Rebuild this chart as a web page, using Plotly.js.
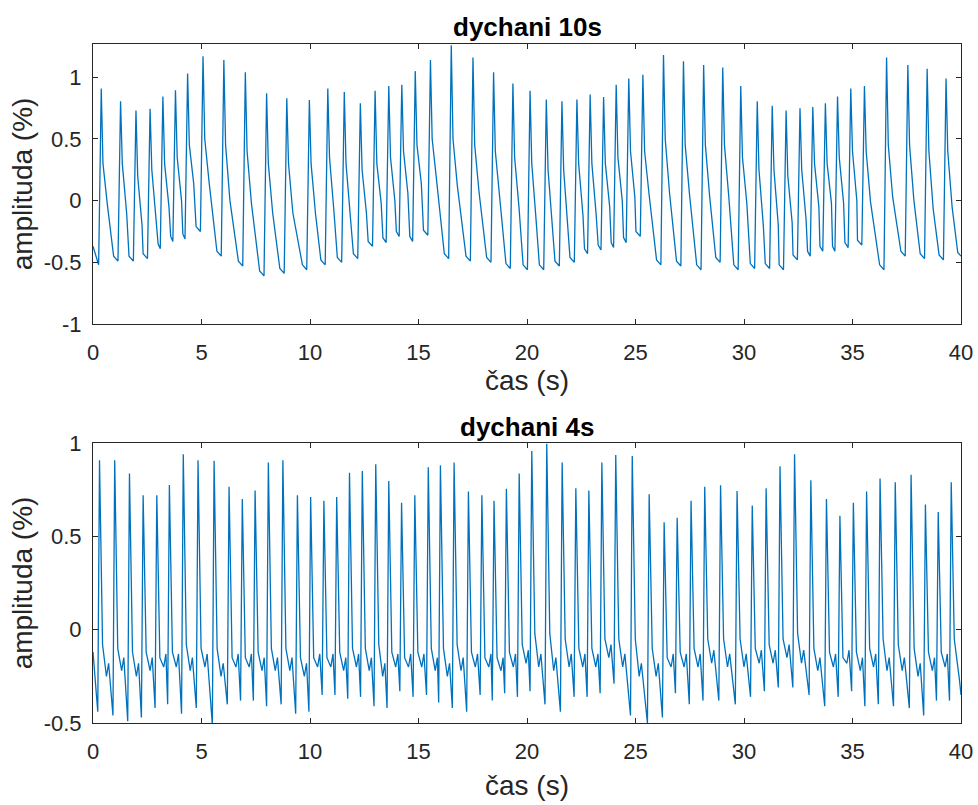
<!DOCTYPE html>
<html>
<head>
<meta charset="utf-8">
<script src="https://cdn.plot.ly/plotly-3.0.1.min.js"></script>
<style>
html,body{margin:0;padding:0;background:#ffffff;}
#chart{width:978px;height:805px;}
</style>
</head>
<body>
<div id="chart"></div>
<script>
// ---------- top panel: "dychani 10s" (key points) ----------
const startT10 = [0.00];
const startV10 = [-0.37];
const troughT10 = [0.26,1.15,1.86,2.51,3.10,3.68,4.24,4.95,5.91,6.90,7.88,8.81,9.85,10.70,11.46,12.20,12.88,13.51,14.11,14.73,15.43,16.39,17.39,18.34,19.23,20.02,20.77,21.49,22.18,22.79,23.41,23.99,24.57,25.22,26.17,27.09,28.02,28.90,29.73,30.49,31.18,31.82,32.46,33.05,33.63,34.19,34.80,35.43,36.45,37.43,38.32,39.19];
const troughV10 = [-0.52,-0.49,-0.49,-0.47,-0.39,-0.33,-0.31,-0.25,-0.45,-0.53,-0.61,-0.59,-0.56,-0.52,-0.50,-0.47,-0.37,-0.34,-0.29,-0.33,-0.28,-0.47,-0.49,-0.50,-0.55,-0.56,-0.56,-0.53,-0.50,-0.43,-0.40,-0.38,-0.34,-0.29,-0.52,-0.53,-0.56,-0.50,-0.56,-0.55,-0.55,-0.56,-0.48,-0.45,-0.41,-0.41,-0.38,-0.36,-0.56,-0.45,-0.47,-0.48];
const peakT10 = [0.38,1.27,1.98,2.63,3.22,3.80,4.36,5.07,6.03,7.02,8.00,8.93,9.97,10.82,11.58,12.32,13.00,13.63,14.23,14.85,15.55,16.51,17.51,18.46,19.35,20.14,20.89,21.61,22.30,22.91,23.53,24.11,24.69,25.34,26.29,27.21,28.14,29.02,29.85,30.61,31.30,31.94,32.58,33.17,33.75,34.31,34.92,35.55,36.57,37.55,38.44,39.31];
const peakV10 = [0.91,0.805,0.73,0.745,0.845,0.895,1.03,1.17,1.14,1.04,0.87,0.83,0.815,0.91,0.88,0.79,0.89,0.93,0.94,1.05,1.14,1.26,1.16,1.04,0.95,0.89,0.82,0.805,0.82,0.86,0.84,0.94,0.99,1.02,1.18,1.13,1.10,1.08,0.93,0.805,0.77,0.73,0.75,0.76,0.79,0.845,0.91,0.93,1.16,1.10,1.07,0.99];
const fallT10 = [0.46,1.35,2.06,2.71,3.30,3.88,4.44,5.15,6.11,7.10,8.08,9.01,10.05,10.90,11.66,12.40,13.08,13.71,14.31,14.93,15.63,16.59,17.59,18.54,19.43,20.22,20.97,21.69,22.38,22.99,23.61,24.19,24.77,25.42,26.37,27.29,28.22,29.10,29.93,30.69,31.38,32.02,32.66,33.25,33.83,34.39,35.00,35.63,36.65,37.63,38.52,39.39];
const fallV10 = [0.30,0.30,0.20,0.25,0.30,0.35,0.45,0.50,0.45,0.40,0.30,0.30,0.30,0.35,0.30,0.25,0.30,0.35,0.40,0.45,0.50,0.50,0.45,0.40,0.35,0.30,0.25,0.25,0.30,0.30,0.30,0.35,0.40,0.40,0.50,0.45,0.45,0.45,0.35,0.25,0.25,0.20,0.25,0.30,0.30,0.35,0.40,0.40,0.45,0.45,0.40,0.40];
const notchT10 = [0.66,1.55,2.26,2.91,3.50,4.08,4.64,5.35,6.31,7.30,8.28,9.21,10.25,11.10,11.86,12.60,13.28,13.91,14.51,15.13,15.83,16.79,17.79,18.74,19.63,20.42,21.17,21.89,22.58,23.19,23.81,24.39,24.97,25.62,26.57,27.49,28.42,29.30,30.13,30.89,31.58,32.22,32.86,33.45,34.03,34.59,35.20,35.83,36.85,37.83,38.72,39.59];
const notchV10 = [-0.03,-0.10,-0.20,-0.12,-0.05,0.00,0.14,0.15,0.00,-0.02,-0.10,-0.10,-0.10,-0.08,-0.09,-0.10,-0.02,0.00,0.06,0.14,0.17,0.12,0.07,0.03,-0.05,-0.16,-0.18,-0.20,-0.12,-0.12,-0.05,0.00,0.03,0.06,0.06,0.05,0.03,0.03,-0.02,-0.20,-0.20,-0.18,-0.15,-0.05,-0.02,-0.02,0.00,-0.01,0.03,0.00,-0.07,-0.05];
const kneeT10 = [0.95,1.66,2.31,3.00,3.58,4.14,4.75,5.71,6.70,7.68,8.61,9.65,10.50,11.26,12.00,12.68,13.36,13.98,14.60,15.23,16.19,17.19,18.14,19.03,19.82,20.57,21.29,21.98,22.65,23.28,23.88,24.45,25.02,25.97,26.89,27.82,28.70,29.53,30.29,30.98,31.62,32.26,32.93,33.50,34.08,34.65,35.23,36.25,37.23,38.12,38.99,39.85];
const kneeV10 = [-0.45,-0.45,-0.43,-0.35,-0.29,-0.27,-0.21,-0.41,-0.49,-0.57,-0.55,-0.52,-0.48,-0.46,-0.43,-0.33,-0.30,-0.25,-0.29,-0.24,-0.43,-0.45,-0.46,-0.51,-0.52,-0.52,-0.49,-0.46,-0.39,-0.36,-0.34,-0.30,-0.25,-0.48,-0.49,-0.52,-0.46,-0.52,-0.51,-0.51,-0.52,-0.44,-0.41,-0.37,-0.37,-0.34,-0.32,-0.52,-0.41,-0.43,-0.44,-0.42];
const endT10 = [40.0];
const endV10 = [-0.45];

// ---------- bottom panel: "dychani 4s" ----------
const startT4 = [0.00];
const startV4 = [-0.12];
const troughT4 = [0.22,0.92,1.60,2.23,2.86,3.44,4.08,4.76,5.50,6.19,6.80,7.39,8.00,8.67,9.34,9.95,10.56,11.15,11.74,12.33,12.95,13.55,14.14,14.75,15.37,15.93,16.56,17.22,17.84,18.40,18.97,19.56,20.14,20.83,21.54,22.17,22.77,23.37,24.01,24.77,25.55,26.24,26.84,27.48,28.11,28.84,29.60,30.30,30.94,31.58,32.25,33.00,33.72,34.34,34.96,35.57,36.19,36.89,37.62,38.28,38.87,39.47];
const troughV4 = [-0.44,-0.46,-0.49,-0.47,-0.42,-0.40,-0.45,-0.42,-0.51,-0.40,-0.38,-0.38,-0.41,-0.40,-0.45,-0.44,-0.35,-0.35,-0.37,-0.36,-0.41,-0.42,-0.33,-0.36,-0.35,-0.39,-0.42,-0.44,-0.35,-0.38,-0.34,-0.36,-0.33,-0.40,-0.44,-0.36,-0.36,-0.34,-0.29,-0.46,-0.50,-0.47,-0.34,-0.40,-0.38,-0.38,-0.40,-0.36,-0.33,-0.31,-0.31,-0.35,-0.41,-0.36,-0.33,-0.41,-0.40,-0.41,-0.42,-0.46,-0.38,-0.38];
const peakT4 = [0.30,1.00,1.68,2.31,2.94,3.52,4.16,4.84,5.58,6.27,6.88,7.47,8.08,8.75,9.42,10.03,10.64,11.23,11.82,12.41,13.03,13.63,14.22,14.83,15.45,16.01,16.64,17.30,17.92,18.48,19.05,19.64,20.22,20.91,21.62,22.25,22.85,23.45,24.09,24.85,25.63,26.32,26.92,27.56,28.19,28.92,29.68,30.38,31.02,31.66,32.33,33.08,33.80,34.42,35.04,35.65,36.27,36.97,37.70,38.36,38.95,39.55];
const peakV4 = [0.907,0.907,0.836,0.72,0.72,0.775,0.94,0.907,0.905,0.765,0.70,0.745,0.895,0.907,0.72,0.71,0.69,0.71,0.84,0.85,0.886,0.796,0.68,0.72,0.87,0.88,0.895,0.74,0.72,0.69,0.755,0.836,0.957,0.996,0.895,0.757,0.746,0.895,0.936,0.93,0.725,0.575,0.60,0.69,0.765,0.773,0.743,0.665,0.757,0.875,0.94,0.80,0.70,0.61,0.68,0.74,0.81,0.79,0.83,0.67,0.63,0.79];
const notchT4 = [0.44,1.14,1.82,2.45,3.08,3.66,4.30,4.98,5.72,6.41,7.02,7.61,8.22,8.89,9.56,10.17,10.78,11.37,11.96,12.55,13.17,13.77,14.36,14.97,15.59,16.15,16.78,17.44,18.06,18.62,19.19,19.78,20.36,21.05,21.76,22.39,22.99,23.59,24.23,24.99,25.77,26.46,27.06,27.70,28.33,29.06,29.82,30.52,31.16,31.80,32.47,33.22,33.94,34.56,35.18,35.79,36.41,37.11,37.84,38.50,39.09,39.69];
const notchV4 = [-0.08,-0.10,-0.12,-0.12,-0.15,-0.12,-0.08,-0.10,-0.10,-0.15,-0.15,-0.12,-0.10,-0.10,-0.15,-0.15,-0.15,-0.12,-0.10,-0.10,-0.08,-0.12,-0.15,-0.12,-0.10,-0.10,-0.08,-0.12,-0.15,-0.15,-0.12,-0.08,-0.02,-0.02,-0.05,-0.10,-0.10,-0.05,-0.05,-0.05,-0.10,-0.15,-0.12,-0.10,-0.05,-0.05,-0.05,-0.10,-0.08,-0.05,-0.02,-0.10,-0.12,-0.15,-0.12,-0.10,-0.05,-0.08,-0.10,-0.12,-0.12,-0.05];
const midT4 = [0.62,1.32,2.00,2.63,3.26,3.84,4.48,5.16,5.90,6.59,7.20,7.79,8.40,9.07,9.74,10.35,10.96,11.55,12.14,12.73,13.35,13.95,14.54,15.15,15.77,16.33,16.96,17.62,18.24,18.80,19.37,19.96,20.54,21.23,21.94,22.57,23.17,23.77,24.41,25.17,25.95,26.64,27.24,27.88,28.51,29.24,30.00,30.70,31.34,31.98,32.65,33.40,34.12,34.74,35.36,35.97,36.59,37.29,38.02,38.68,39.27,39.87];
const midV4 = [-0.25,-0.22,-0.25,-0.22,-0.20,-0.20,-0.22,-0.20,-0.25,-0.20,-0.20,-0.22,-0.22,-0.22,-0.25,-0.20,-0.20,-0.22,-0.20,-0.22,-0.25,-0.20,-0.20,-0.20,-0.22,-0.25,-0.22,-0.20,-0.20,-0.22,-0.20,-0.18,-0.20,-0.22,-0.20,-0.20,-0.20,-0.15,-0.20,-0.25,-0.25,-0.20,-0.20,-0.20,-0.18,-0.20,-0.20,-0.18,-0.18,-0.15,-0.18,-0.22,-0.20,-0.18,-0.22,-0.20,-0.22,-0.22,-0.25,-0.22,-0.20,-0.20];
const bumpT4 = [0.72,1.42,2.10,2.73,3.36,3.94,4.58,5.26,6.00,6.69,7.30,7.89,8.50,9.17,9.84,10.45,11.06,11.65,12.24,12.83,13.45,14.05,14.64,15.25,15.87,16.43,17.06,17.72,18.34,18.90,19.47,20.06,20.64,21.33,22.04,22.67,23.27,23.87,24.51,25.27,26.05,26.74,27.34,27.98,28.61,29.34,30.10,30.80,31.44,32.08,32.75,33.50,34.22,34.84,35.46,36.07,36.69,37.39,38.12,38.78,39.37,39.93];
const bumpV4 = [-0.18,-0.15,-0.18,-0.15,-0.13,-0.13,-0.15,-0.13,-0.18,-0.13,-0.13,-0.15,-0.15,-0.15,-0.18,-0.13,-0.13,-0.15,-0.13,-0.15,-0.18,-0.13,-0.13,-0.13,-0.15,-0.18,-0.15,-0.13,-0.13,-0.15,-0.13,-0.11,-0.13,-0.15,-0.13,-0.13,-0.13,-0.08,-0.13,-0.18,-0.18,-0.13,-0.13,-0.13,-0.11,-0.13,-0.13,-0.11,-0.11,-0.08,-0.11,-0.15,-0.13,-0.11,-0.15,-0.13,-0.15,-0.15,-0.18,-0.15,-0.13,-0.27];
const endT4 = [40.0];
const endV4 = [-0.35];

const xTicks = [0,5,10,15,20,25,30,35,40];
const yTicks10 = [-1,-0.5,0,0.5,1];
const yTickText10 = ['-1','-0.5','0','0.5','1'];
const yTicks4 = [-0.5,0,0.5,1];
const yTickText4 = ['-0.5','0','0.5','1'];

// interleave the read key points of each beat in time order:
// trough before the beat, peak, then the points read after the peak
function interleave(sT, sV, tT, tV, pT, pV, after, eT, eV) {
  const x = [].concat(sT), y = [].concat(sV);
  for (let i = 0; i < pT.length; i++) {
    x.push(tT[i], pT[i]);
    y.push(tV[i], pV[i]);
    after.forEach(function (p) { x.push(p[0][i]); y.push(p[1][i]); });
  }
  return {x: x.concat(eT), y: y.concat(eV)};
}
const w10 = interleave(startT10, startV10, troughT10, troughV10, peakT10, peakV10,
  [[fallT10, fallV10], [notchT10, notchV10], [kneeT10, kneeV10]], endT10, endV10);
const w4 = interleave(startT4, startV4, troughT4, troughV4, peakT4, peakV4,
  [[notchT4, notchV4], [midT4, midV4], [bumpT4, bumpV4]], endT4, endV4);

const F = 'Liberation Sans, Arial, Helvetica, sans-serif';
const INK = '#262626';
const LINE = '#0072BD';

const traces = [
  {type:'scatter', mode:'lines', x:w10.x, y:w10.y, xaxis:'x', yaxis:'y',
   line:{color:LINE, width:1.3}, hoverinfo:'skip'},
  {type:'scatter', mode:'lines', x:w4.x, y:w4.y, xaxis:'x2', yaxis:'y2',
   line:{color:LINE, width:1.3}, hoverinfo:'skip'}
];

function ax(extra) {
  return Object.assign({
    showline:true, mirror:'ticks', linecolor:INK, linewidth:1,
    ticks:'inside', ticklen:5, tickwidth:1, tickcolor:INK,
    showgrid:false, zeroline:false, fixedrange:true,
    tickfont:{family:F, size:22, color:INK}
  }, extra);
}

const layout = {
  width:978, height:805,
  margin:{l:93, r:17, t:44, b:82},
  paper_bgcolor:'#ffffff', plot_bgcolor:'#ffffff',
  showlegend:false,
  font:{family:F, color:INK},
  xaxis: ax({domain:[0,1], anchor:'y', range:[0,40], tickmode:'array', tickvals:xTicks,
             ticklabelstandoff:9,
             title:{text:'čas (s)', font:{family:F, size:28, color:INK}, standoff:0}}),
  yaxis: ax({domain:[0.5876,1], anchor:'x', range:[-1,1.27], tickmode:'array',
             tickvals:yTicks10, ticktext:yTickText10, ticklabelstandoff:6,
             title:{text:'amplituda (%)', font:{family:F, size:28, color:INK}, standoff:2}}),
  xaxis2: ax({domain:[0,1], anchor:'y2', range:[0,40], tickmode:'array', tickvals:xTicks,
             ticklabelstandoff:9,
             title:{text:'čas (s)', font:{family:F, size:28, color:INK}, standoff:11}}),
  yaxis2: ax({domain:[0,0.4124], anchor:'x2', range:[-0.5,1], tickmode:'array',
             tickvals:yTicks4, ticktext:yTickText4, ticklabelstandoff:6,
             title:{text:'amplituda (%)', font:{family:F, size:28, color:INK}, standoff:2}}),
  annotations:[
    {text:'<b>dychani 10s</b>', xref:'paper', yref:'paper', x:0.5, y:1.025,
     xanchor:'center', yanchor:'middle', showarrow:false,
     font:{family:F, size:26, color:'#000000'}},
    {text:'<b>dychani 4s</b>', xref:'paper', yref:'paper', x:0.5, y:0.436,
     xanchor:'center', yanchor:'middle', showarrow:false,
     font:{family:F, size:26, color:'#000000'}}
  ]
};

Plotly.newPlot('chart', traces, layout, {displayModeBar:false, staticPlot:true});
</script>
</body>
</html>
